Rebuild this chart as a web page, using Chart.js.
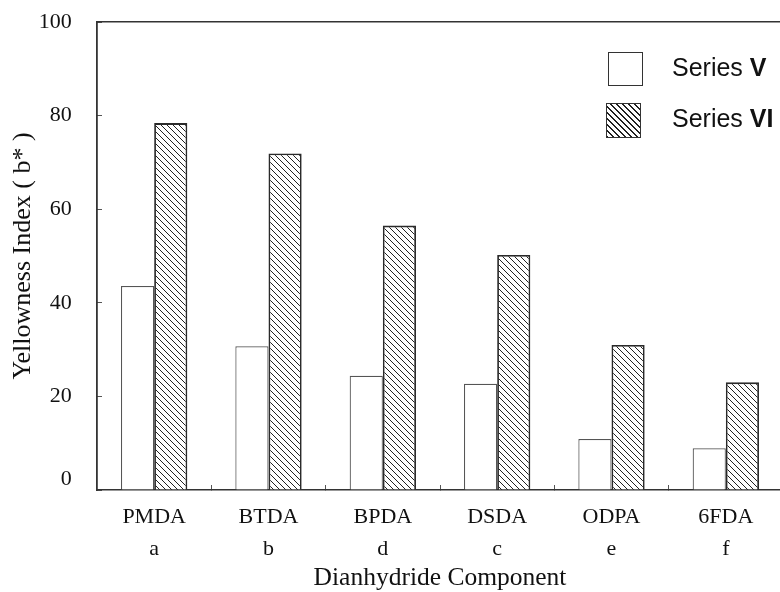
<!DOCTYPE html>
<html><head><meta charset="utf-8">
<script src="https://cdn.jsdelivr.net/npm/chart.js@4.4.1/dist/chart.umd.min.js"></script>
<style>
html,body{margin:0;padding:0;overflow:hidden;background:#fff;width:780px;height:592px;}
#wrap{position:absolute;left:0;top:0;width:783px;height:592px;}
.sw{position:absolute;box-sizing:border-box;border:1.5px solid #333;}
.lt{position:absolute;font-family:"Liberation Sans",Arial,sans-serif;font-size:25px;line-height:25px;color:#111;white-space:nowrap;}
</style></head><body>
<div id="wrap"><canvas id="c"></canvas></div>
<div id="legend"></div>
<script>
const categories = ['PMDA','BTDA','BPDA','DSDA','ODPA','6FDA'];
const subLabels = ['a','b','d','c','e','f'];
const seriesNames = ['V','VI'];
const seriesV = [43.6, 30.7, 24.4, 22.7, 10.9, 8.9];
const seriesVI = [78.4, 71.9, 56.5, 50.2, 31.0, 23.0];
const yTicks = [0, 20, 40, 60, 80, 100];

const SERIF = '"Liberation Serif","Times New Roman",serif';
const canvas = document.getElementById('c');
const ctx = canvas.getContext('2d');

function makeHatch(){
  const t = document.createElement('canvas'); t.width = 6; t.height = 6;
  const g = t.getContext('2d');
  g.fillStyle = '#fff'; g.fillRect(0,0,6,6);
  g.strokeStyle = '#222'; g.lineWidth = 1;
  g.beginPath();
  g.moveTo(-1,-1); g.lineTo(7,7);
  g.moveTo(-1,5); g.lineTo(1,7);
  g.moveTo(5,-1); g.lineTo(7,1);
  g.stroke();
  return ctx.createPattern(t,'repeat');
}

// HTML legend (mixed bold text)
const legendPos = [
  {sw:{left:608,top:52,w:35,h:34}, bg:'#fff', text:{left:672,top:54.5}},
  {sw:{left:606,top:103,w:35,h:35}, bg:'repeating-linear-gradient(45deg,#222 0,#222 1px,#fff 1px,#fff 4.24px)', text:{left:672,top:105.5}}
];
const lg = document.getElementById('legend');
seriesNames.forEach((n,i)=>{
  const p = legendPos[i];
  const s = document.createElement('div');
  s.className='sw';
  s.style.cssText = `left:${p.sw.left}px;top:${p.sw.top}px;width:${p.sw.w}px;height:${p.sw.h}px;background:${p.bg}`;
  lg.appendChild(s);
  const t = document.createElement('div');
  t.className='lt';
  t.style.left = p.text.left+'px'; t.style.top = p.text.top+'px';
  t.appendChild(document.createTextNode('Series '));
  const b = document.createElement('b'); b.textContent = n; t.appendChild(b);
  lg.appendChild(t);
});

new Chart(ctx, {
  type: 'bar',
  data: {
    labels: categories.map((c,i)=>[c, subLabels[i]]),
    datasets: [
      {label:'Series '+seriesNames[0], data: seriesV, backgroundColor:'#fff', borderColor:'#555', borderWidth:1.2,
       categoryPercentage:0.58, barPercentage:1},
      {label:'Series '+seriesNames[1], data: seriesVI, backgroundColor: makeHatch(), borderColor:'#2a2a2a', borderWidth:1.8,
       categoryPercentage:0.58, barPercentage:1}
    ]
  },
  options: {
    responsive:true, maintainAspectRatio:false, animation:false, devicePixelRatio:1,
    layout:{padding:{top:0,right:0,left:0,bottom:0}},
    plugins:{legend:{display:false}, tooltip:{enabled:false}},
    scales:{
      x:{
        type:'category', offset:true,
        grid:{offset:true, drawOnChartArea:false, drawTicks:true, tickLength:-5, color:'#555', lineWidth:1},
        border:{display:true, color:'#333', width:1.5},
        ticks:{color:'#111', font:{family:SERIF, size:22, lineHeight:32.4/22}, padding:15.7, maxRotation:0, minRotation:0, autoSkip:false},
        title:{display:true, text:'Dianhydride Component', color:'#111', font:{family:SERIF, size:25.5, lineHeight:1}, padding:{top:0,bottom:0.7}},
        afterFit(s){ s.height = 102; s.paddingLeft = 0; s.paddingRight = 0; }
      },
      xTop:{
        type:'category', position:'top', display:true,
        grid:{display:false, drawTicks:false, drawOnChartArea:false},
        border:{display:true, color:'#333', width:1.5},
        ticks:{display:false},
        afterFit(s){ s.height = 22; s.paddingLeft = 0; s.paddingRight = 0; }
      },
      y:{
        min:0, max:100,
        afterBuildTicks(s){ s.ticks = yTicks.map(v=>({value:v})); },
        grid:{drawOnChartArea:false, drawTicks:true, tickLength:-5, color:'#555', lineWidth:1},
        border:{display:true, color:'#333', width:1.8},
        ticks:{
          color:'#111', padding:30.3,
          font:(c)=>({family:SERIF, size:22, lineHeight: (c.tick && c.tick.value===0) ? 1.0 : 1.2}),
          callback:(v)=> v===0 ? ['0',''] : String(v)
        },
        title:{display:true, text:'Yellowness Index ( b* )', color:'#111', font:{family:SERIF, size:26, lineHeight:1}, padding:{top:10.2,bottom:0}},
        afterFit(s){ s.width = 97; s.paddingTop = 0; s.paddingBottom = 0; }
      }
    }
  }
});
</script>
</body></html>
